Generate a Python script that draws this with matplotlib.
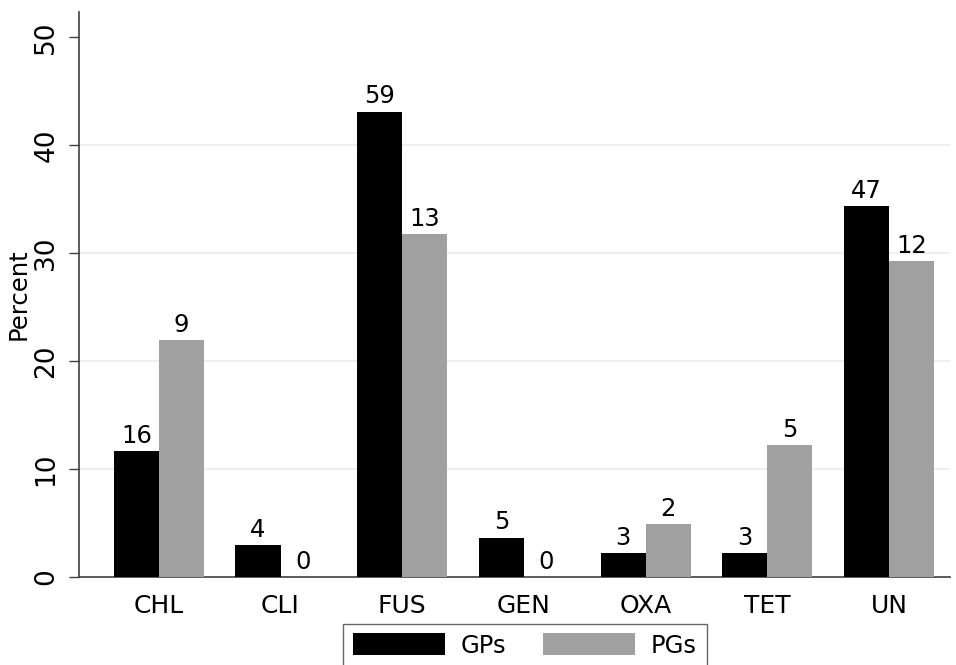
import numpy as np
import matplotlib.pyplot as plt
from matplotlib.patches import Patch

# ------------------------------------------------------------
# Data: percent of isolates by resistance class, with counts on top
# ------------------------------------------------------------
categories = ["CHL", "CLI", "FUS", "GEN", "OXA", "TET", "UN"]
gps_pct = [11.68, 2.92, 43.07, 3.65, 2.19, 2.19, 34.31]
pgs_pct = [21.95, 0.0, 31.71, 0.0, 4.88, 12.20, 29.27]
gps_n = [16, 4, 59, 5, 3, 3, 47]
pgs_n = [9, 0, 13, 0, 2, 5, 12]
yticks = [0, 10, 20, 30, 40, 50]

black = "#000000"
gray = "#a0a0a0"
grid_col = "#eaf0f3"
axis_col = "#404040"

plt.rcParams['font.family'] = ['DejaVu Sans']

fig = plt.figure(figsize=(9.56, 6.65), dpi=100)
ax = fig.add_axes([0.0826, 0.1323, 0.9937 - 0.0826, 0.982 - 0.1323])

x = np.arange(len(categories))
w = 0.37

ax.bar(x - w / 2, gps_pct, width=w, color=black, edgecolor="none", zorder=3)
ax.bar(x + w / 2, pgs_pct, width=w, color=gray, edgecolor="none", zorder=3)

for xi, v, n in zip(x, gps_pct, gps_n):
    ax.text(xi - w / 2, v + 0.3, str(n), ha="center", va="bottom", fontsize=17.5, zorder=4)
for xi, v, n in zip(x, pgs_pct, pgs_n):
    ax.text(xi + w / 2, v + 0.3, str(n), ha="center", va="bottom", fontsize=17.5, zorder=4)

ax.set_xlim(-0.656, 6.5)
ax.set_ylim(0, 52.3)

ax.set_yticks(yticks)
ax.set_yticklabels([str(t) for t in yticks], rotation=90, va="center", fontsize=19)
ax.set_xticks(x)
ax.set_xticklabels(categories, fontsize=18)
ax.tick_params(axis="x", length=0, pad=12)
ax.tick_params(axis="y", length=7.2, width=1.0, color=axis_col, pad=7)

for t in yticks[1:-1]:
    ax.axhline(t, color=grid_col, linewidth=1.5, zorder=1)

for s in ["top", "right"]:
    ax.spines[s].set_visible(False)
for s in ["left", "bottom"]:
    ax.spines[s].set_color(axis_col)
    ax.spines[s].set_linewidth(1.2)

ax.set_ylabel("Percent", fontsize=17.5, labelpad=2)

handles = [Patch(facecolor=black, edgecolor="none"), Patch(facecolor=gray, edgecolor="none")]
leg = fig.legend(handles, ["GPs", "PGs"], loc="upper center", bbox_to_anchor=(0.549, 0.062),
                 ncol=2, fontsize=17.5, frameon=True, fancybox=False,
                 handlelength=3.8, handleheight=1.0, handletextpad=0.65, columnspacing=1.5,
                 borderpad=0.4, borderaxespad=0.0)
leg.get_frame().set_edgecolor(axis_col)
leg.get_frame().set_linewidth(1.0)

fig.savefig("out.png", dpi=100)
